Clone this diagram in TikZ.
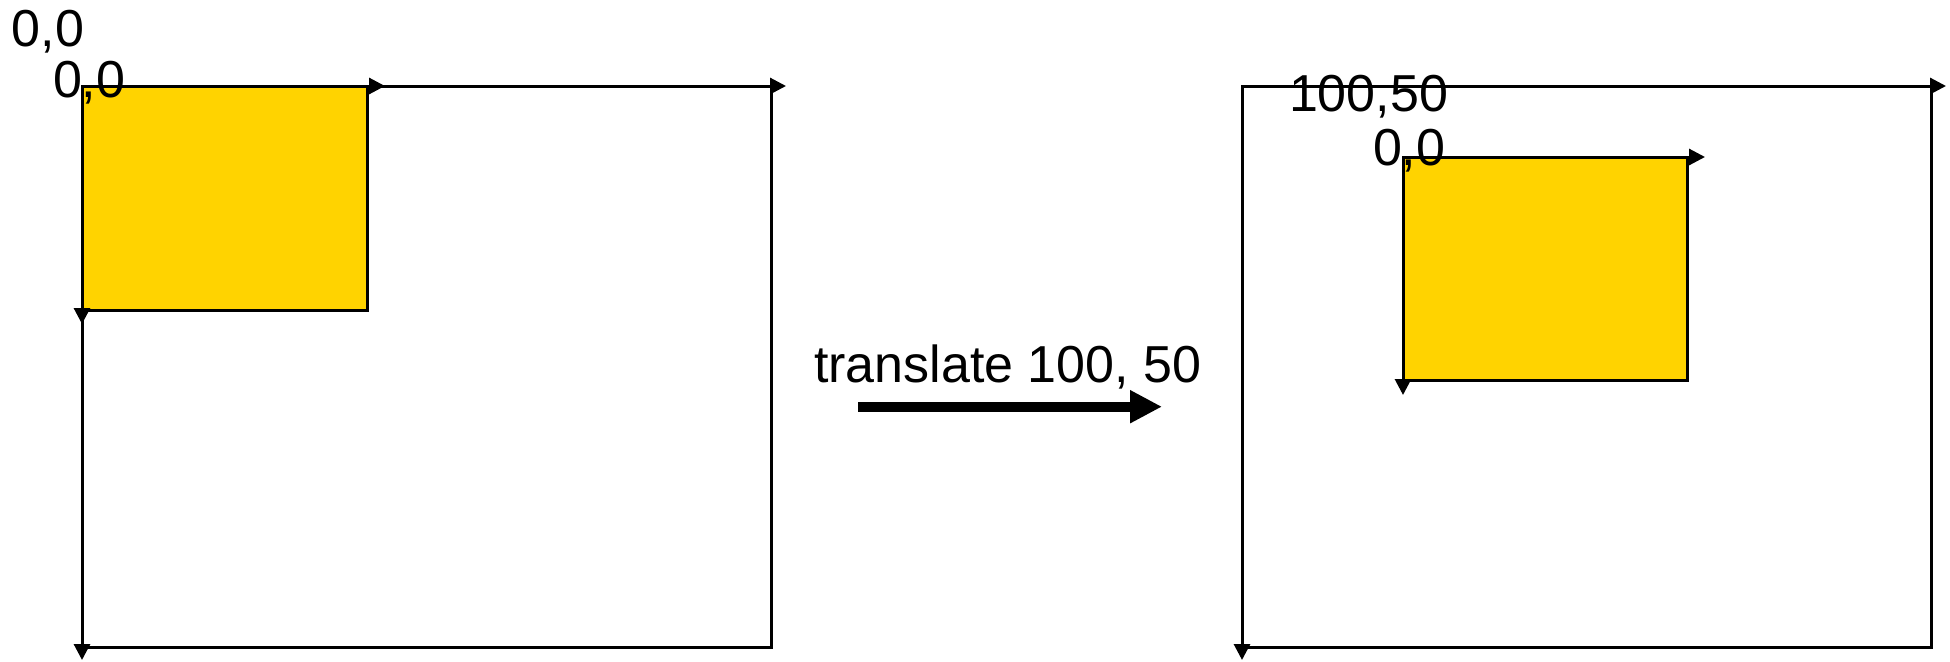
\documentclass[tikz,border=0pt]{standalone}
\usepackage{fontspec}
\setmainfont{Liberation Sans}
\usetikzlibrary{arrows.meta}
\definecolor{gold}{RGB}{255,211,0}
\tikzset{
  frame/.style={draw=black, line width=3pt, fill=white, anchor=north west, inner sep=0pt, outer sep=0pt},
  goldbox/.style={draw=black, line width=3pt, fill=gold, anchor=north west, inner sep=0pt, outer sep=0pt},
  axis/.style={draw=black, line width=3pt, -{Triangle[length=16pt,width=16pt]}},
  lbl/.style={anchor=base west, inner sep=0pt, outer sep=0pt, font=\fontsize{52}{62}\selectfont},
  bigarrow/.style={draw=black, line width=10pt, -{Triangle[length=32pt,width=31pt]}}
}
\begin{document}
\begin{tikzpicture}[x=1pt,y=-1pt]
\useasboundingbox (0,0) rectangle (1950,661);
% left frame
\node[frame, minimum width=689pt, minimum height=561pt] (L) at (82,86) {};
\node[goldbox, minimum width=285pt, minimum height=224pt] (YL) at (82,86) {};
\draw[axis] (L.north west) -- ++(704,0);
\draw[axis] (L.north west) -- ++(0,574);
\draw[axis] (YL.north west) -- ++(303,0);
\draw[axis] (YL.north west) -- ++(0,238);
% right frame
\node[frame, minimum width=689pt, minimum height=561pt] (R) at (1242,86) {};
\node[goldbox, minimum width=284pt, minimum height=223pt] (YR) at (1403,157) {};
\draw[axis] (R.north west) -- ++(704,0);
\draw[axis] (R.north west) -- ++(0,574);
\draw[axis] (YR.north west) -- ++(302,0);
\draw[axis] (YR.north west) -- ++(0,238);
% labels
\node[lbl] (o1) at (12,47) {0,0};
\node[lbl] (o2) at (53,97) {0,0};
\node[lbl] (o3) at (1289,111.5) {100,50};
\node[lbl] (o4) at (1373,165) {0,0};
\node[lbl] (tr) at (814,382) {translate 100, 50};
% translate arrow
\coordinate (a1) at (858,406.7);
\coordinate (a2) at (1162,406.7);
\draw[bigarrow] (a1) -- (a2);
\end{tikzpicture}
\end{document}
